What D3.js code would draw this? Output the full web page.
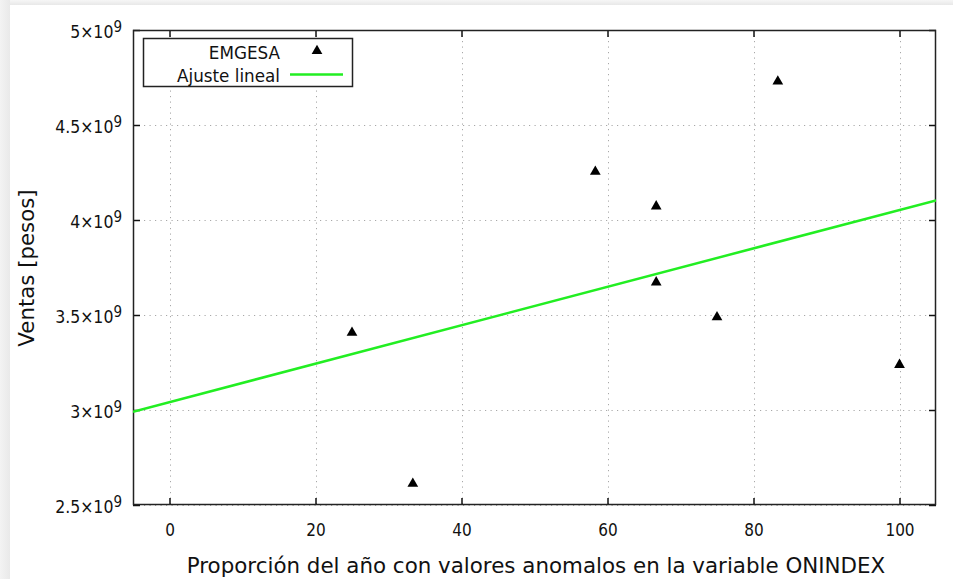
<!DOCTYPE html>
<html>
<head>
<meta charset="utf-8">
<script src="https://cdn.jsdelivr.net/npm/d3@7"></script>
<style>
  html, body { margin: 0; padding: 0; background: #fff; }
  svg { display: block; }
  text { fill: #111; }
  .cond { font-family: "DejaVu Sans Condensed", "DejaVu Sans", sans-serif; }
  .reg { font-family: "DejaVu Sans", sans-serif; }
</style>
</head>
<body>
<svg id="chart" width="953" height="579"></svg>
<script>
// Proportion of the year with anomalous ONINDEX values (%) vs. EMGESA sales
const proporcion = [25, 33.33, 58.33, 66.67, 66.67, 75, 83.33, 100];
const ventas = [3.407e9, 2.612e9, 4.254e9, 4.072e9, 3.672e9, 3.489e9, 4.729e9, 3.238e9];
const xTicks = [0, 20, 40, 60, 80, 100];
const yTicks = [2.5e9, 3e9, 3.5e9, 4e9, 4.5e9, 5e9];
const yTickMant = ["2.5", "3", "3.5", "4", "4.5", "5"];
const seriesNames = ["EMGESA", "Ajuste lineal"];

const svg = d3.select("#chart");
const W = 953, H = 579;
const plot = { left: 133, right: 936, top: 30, bottom: 505 };

// page frame shading
const defs = svg.append("defs");
const gl = defs.append("linearGradient").attr("id", "gLeft").attr("x1", 0).attr("x2", 1).attr("y1", 0).attr("y2", 0);
gl.append("stop").attr("offset", 0).attr("stop-color", "#f3f3f3");
gl.append("stop").attr("offset", 1).attr("stop-color", "#e9e9e9");
const gt = defs.append("linearGradient").attr("id", "gTop").attr("x1", 0).attr("x2", 0).attr("y1", 0).attr("y2", 1);
gt.append("stop").attr("offset", 0).attr("stop-color", "#f6f6f6");
gt.append("stop").attr("offset", 1).attr("stop-color", "#e8e8e8");
svg.append("rect").attr("x", 0).attr("y", 0).attr("width", W).attr("height", H).attr("fill", "#fff");
svg.append("rect").attr("x", 0).attr("y", 0).attr("width", W).attr("height", 5).attr("fill", "url(#gTop)");
svg.append("rect").attr("x", 0).attr("y", 0).attr("width", 10).attr("height", H).attr("fill", "url(#gLeft)");

const x = d3.scaleLinear().domain([-5, 105]).range([plot.left, plot.right]);
const y = d3.scaleLinear().domain([2.5e9, 5e9]).range([plot.bottom, plot.top]);

// grid
const grid = svg.append("g").attr("stroke", "#a8a8a8").attr("stroke-width", 1).attr("stroke-dasharray", "1.2,4.3");
xTicks.forEach(t => grid.append("line")
  .attr("x1", Math.round(x(t)) + 0.5).attr("x2", Math.round(x(t)) + 0.5)
  .attr("y1", plot.top).attr("y2", plot.bottom));
yTicks.forEach(t => grid.append("line")
  .attr("x1", plot.left).attr("x2", plot.right)
  .attr("y1", Math.round(y(t)) + 0.5).attr("y2", Math.round(y(t)) + 0.5));

// axes (ticks pointing inward, mirrored on opposite sides)
const tickLen = 7;
const axisStyle = g => {
  g.select(".domain").remove();
  g.selectAll(".tick line").attr("stroke", "#111").attr("stroke-width", 1.5);
};
svg.append("g").attr("transform", `translate(0,${plot.bottom})`)
  .call(d3.axisBottom(x).tickValues(xTicks).tickSize(-tickLen).tickFormat(d3.format("d")))
  .call(axisStyle)
  .call(g => g.selectAll(".tick text")
    .attr("class", "cond").attr("y", 31).attr("dy", 0)
    .attr("font-size", 17).attr("fill", "#111"));
svg.append("g").attr("transform", `translate(0,${plot.top})`)
  .call(d3.axisTop(x).tickValues(xTicks).tickSize(-tickLen).tickFormat(""))
  .call(axisStyle);
const yAxis = svg.append("g").attr("transform", `translate(${plot.left},0)`)
  .call(d3.axisLeft(y).tickValues(yTicks).tickSize(-tickLen).tickFormat(""))
  .call(axisStyle);
svg.append("g").attr("transform", `translate(${plot.right},0)`)
  .call(d3.axisRight(y).tickValues(yTicks).tickSize(-tickLen).tickFormat(""))
  .call(axisStyle);

// y tick labels as mantissa x 10^9
yAxis.selectAll(".tick").each(function(d, i) {
  const t = d3.select(this).append("text")
    .attr("class", "cond")
    .attr("x", -11).attr("y", 7.5).attr("text-anchor", "end")
    .attr("font-size", 17.5).attr("fill", "#111");
  t.append("tspan").text(yTickMant[i] + "\u00d710");
  t.append("tspan").attr("font-size", 15).attr("dy", -6.5).text("9");
});

// border
svg.append("rect")
  .attr("x", plot.left + 0.5).attr("y", plot.top + 0.5)
  .attr("width", plot.right - plot.left - 1).attr("height", plot.bottom - plot.top - 1)
  .attr("fill", "none").attr("stroke", "#222").attr("stroke-width", 1.5);

// least-squares fit of ventas against proporcion
const mx = d3.mean(proporcion), my = d3.mean(ventas);
const sxy = d3.sum(proporcion, (v, i) => (v - mx) * (ventas[i] - my));
const sxx = d3.sum(proporcion, v => (v - mx) * (v - mx));
const slope = sxy / sxx, intercept = my - slope * mx;
const fitX = x.domain();

const clip = defs.append("clipPath").attr("id", "plotClip");
clip.append("rect").attr("x", plot.left).attr("y", plot.top)
  .attr("width", plot.right - plot.left).attr("height", plot.bottom - plot.top);

svg.append("path")
  .datum(fitX)
  .attr("clip-path", "url(#plotClip)")
  .attr("d", d3.line().x(d => x(d)).y(d => y(intercept + slope * d)))
  .attr("fill", "none").attr("stroke", "#22ee22").attr("stroke-width", 2.5);

// data markers
const tri = d3.symbol().type(d3.symbolTriangle).size(50);
svg.append("g").selectAll("path")
  .data(proporcion.map((p, i) => [p, ventas[i]]))
  .join("path")
  .attr("transform", d => `translate(${x(d[0])},${y(d[1])})`)
  .attr("d", tri)
  .attr("fill", "#000");

// legend
const leg = svg.append("g");
leg.append("rect").attr("x", 143.5).attr("y", 38.5).attr("width", 209).attr("height", 48)
  .attr("fill", "#fff").attr("stroke", "#222").attr("stroke-width", 1.5);
leg.append("text").attr("class", "reg").attr("x", 280).attr("y", 58.5).attr("text-anchor", "end")
  .attr("font-size", 16.8).text(seriesNames[0]);
leg.append("path").attr("transform", "translate(317,51)").attr("d", tri).attr("fill", "#000");
leg.append("text").attr("class", "reg").attr("x", 280).attr("y", 81.5).attr("text-anchor", "end")
  .attr("font-size", 16.8).text(seriesNames[1]);
leg.append("line").attr("x1", 290).attr("x2", 343).attr("y1", 74.5).attr("y2", 74.5)
  .attr("stroke", "#22ee22").attr("stroke-width", 2.5);

// axis titles
svg.append("text").attr("class", "reg").attr("x", 536).attr("y", 573)
  .attr("text-anchor", "middle").attr("font-size", 21.4)
  .text("Proporción del año con valores anomalos en la variable ONINDEX");
svg.append("text").attr("class", "reg").attr("transform", "translate(34,268) rotate(-90)")
  .attr("text-anchor", "middle").attr("font-size", 21.3)
  .text("Ventas [pesos]");
</script>
</body>
</html>
